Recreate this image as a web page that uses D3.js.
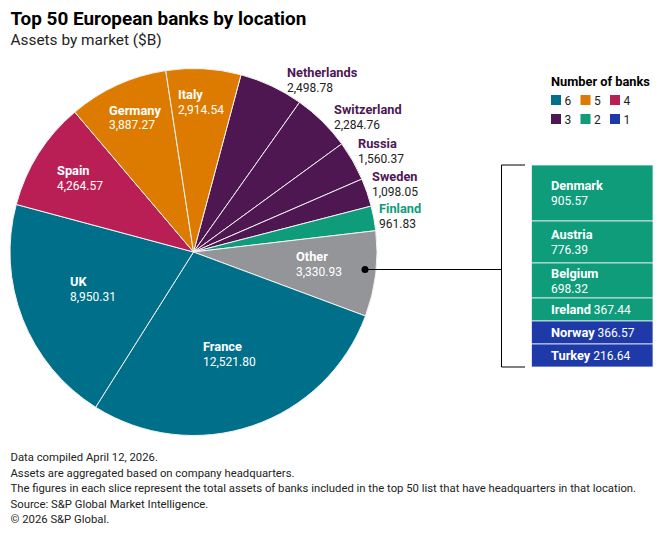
<!DOCTYPE html>
<html>
<head>
<meta charset="utf-8">
<script src="https://cdn.jsdelivr.net/npm/d3@7"></script>
<style>
  html, body { margin: 0; padding: 0; background: #fff; }
  text { font-family: Roboto, sans-serif; }
</style>
</head>
<body>
<div id="chart"></div>
<script>
// Pie slices, clockwise from the top right
const markets = ["Netherlands", "Switzerland", "Russia", "Sweden", "Finland", "Other", "France", "UK", "Spain", "Germany", "Italy"];
const assets = [2498.78, 2284.76, 1560.37, 1098.05, 961.83, 3330.93, 12521.80, 8950.31, 4264.57, 3887.27, 2914.54];
const assetLabels = ["2,498.78", "2,284.76", "1,560.37", "1,098.05", "961.83", "3,330.93", "12,521.80", "8,950.31", "4,264.57", "3,887.27", "2,914.54"];
const bankCounts = [3, 3, 3, 3, 2, 0, 6, 6, 4, 5, 5];

// Breakdown of the "Other" slice
const otherMarkets = ["Denmark", "Austria", "Belgium", "Ireland", "Norway", "Turkey"];
const otherAssets = [905.57, 776.39, 698.32, 367.44, 366.57, 216.64];
const otherCounts = [2, 2, 2, 2, 1, 1];

const legendCounts = [6, 5, 4, 3, 2, 1];

const footnotes = [
  "Data compiled April 12, 2026.",
  "Assets are aggregated based on company headquarters.",
  "The figures in each slice represent the total assets of banks included in the top 50 list that have headquarters in that location.",
  "Source: S&P Global Market Intelligence.",
  "© 2026 S&P Global."
];

const w = 660, h = 535;
const cx = 193.5, cy = 252, radius = 183.5;

const color = d3.scaleOrdinal()
  .domain([6, 5, 4, 3, 2, 1, 0])
  .range(["#006f8a", "#dd7a00", "#b91f55", "#4e1752", "#0e9c7a", "#1d3aa8", "#939598"]);

const svg = d3.select("#chart").append("svg")
  .attr("width", w)
  .attr("height", h)
  .style("display", "block");

// Title
svg.append("text").attr("x", 10.5).attr("y", 24.5)
  .attr("font-size", 18.9).attr("font-weight", 700).attr("fill", "#000")
  .text("Top 50 European banks by location");
svg.append("text").attr("x", 10.5).attr("y", 44.5)
  .attr("font-size", 15.4).attr("fill", "#222")
  .text("Assets by market ($B)");

// Pie
const pie = d3.pie().sort(null)
  .startAngle(15 * Math.PI / 180)
  .endAngle(375 * Math.PI / 180);
const arc = d3.arc().innerRadius(0).outerRadius(radius);
const slices = pie(assets);

svg.append("g")
  .attr("transform", `translate(${cx},${cy})`)
  .selectAll("path")
  .data(slices)
  .enter()
  .append("path")
  .attr("d", arc)
  .attr("fill", (d, i) => color(bankCounts[i]))
  .attr("stroke", "#f2f2f2")
  .attr("stroke-width", 1);

// Hand placed label spots: [x, name baseline, value baseline]
const labelSpots = {
  Netherlands: [287, 77, 92], Switzerland: [334, 114, 129], Russia: [358, 148, 163],
  Sweden: [372, 181, 196], Finland: [379, 213, 228], Other: [296, 261, 276],
  France: [203, 351, 366], UK: [70, 286, 301], Spain: [57, 175, 190],
  Germany: [109, 115, 129], Italy: [178, 99, 114]
};
const outside = ["Netherlands", "Switzerland", "Russia", "Sweden", "Finland"];

markets.forEach((m, i) => {
  const spot = labelSpots[m];
  const out = outside.includes(m);
  svg.append("text").attr("x", spot[0]).attr("y", spot[1])
    .attr("font-size", 12.8).attr("font-weight", 700)
    .attr("fill", out ? color(bankCounts[i]) : "#fff")
    .text(m);
  svg.append("text").attr("x", spot[0]).attr("y", spot[2])
    .attr("font-size", 12)
    .attr("fill", out ? "#222" : "#fff")
    .text(assetLabels[i]);
});

// Breakdown panel, row height grows with value but has a floor
const rowHeight = d3.scaleLinear()
  .domain([216.64, 367.44, 698.32, 776.39, 905.57])
  .range([23, 23, 35, 42, 56]);
const panelX = d3.scaleLinear().domain([0, 1]).range([531.5, 653]);
const panelTop = 165;

let rowY = panelTop;
const rows = otherAssets.map((v, i) => {
  const row = { name: otherMarkets[i], value: v, count: otherCounts[i], y: rowY, height: rowHeight(v) };
  rowY += row.height;
  return row;
});
const panelBottom = rowY;

svg.append("g").selectAll("rect")
  .data(rows)
  .enter()
  .append("rect")
  .attr("x", panelX(0))
  .attr("y", d => d.y)
  .attr("width", panelX(1) - panelX(0))
  .attr("height", d => d.height)
  .attr("fill", d => color(d.count))
  .attr("stroke", "#f2f2f2")
  .attr("stroke-width", 0.8);

const fmt = d3.format(".2f");
rows.forEach(r => {
  const mid = r.y + r.height / 2;
  const lbl = svg.append("text").attr("x", 551).attr("font-size", 12).attr("fill", "#fff");
  if (r.height > 30) {
    lbl.attr("y", mid - 3).attr("font-size", 12.8).attr("font-weight", 700).text(r.name);
    svg.append("text").attr("x", 551).attr("y", mid + 12)
      .attr("font-size", 12).attr("fill", "#fff").text(fmt(r.value));
  } else {
    lbl.attr("y", mid + 4);
    lbl.append("tspan").attr("font-size", 12.8).attr("font-weight", 700).text(r.name);
    lbl.append("tspan").text(" " + fmt(r.value));
  }
});

// Leader and bracket
svg.append("path")
  .attr("d", `M525,${panelTop}H501.5V${panelBottom}H525M501.5,269.5H365`)
  .attr("fill", "none").attr("stroke", "#000").attr("stroke-width", 1);
svg.append("circle").attr("cx", 365).attr("cy", 269.5).attr("r", 3.5).attr("fill", "#000");

// Legend
svg.append("text").attr("x", 551).attr("y", 86)
  .attr("font-size", 12.8).attr("font-weight", 700).attr("fill", "#000")
  .text("Number of banks");
const legendX = d3.scalePoint().domain([0, 1, 2]).range([551, 610]);
const legendY = d3.scalePoint().domain([0, 1]).range([95, 114]);
const legend = svg.append("g").selectAll("g")
  .data(legendCounts)
  .enter()
  .append("g")
  .attr("transform", (d, i) => `translate(${legendX(i % 3)},${legendY(Math.floor(i / 3))})`);
legend.append("rect").attr("width", 10).attr("height", 10).attr("fill", d => color(d));
legend.append("text").attr("x", 13.5).attr("y", 10)
  .attr("font-size", 12).attr("fill", "#222").text(d => d);

// Footnotes
const footY = d3.scaleLinear().domain([0, 4]).range([461, 523]);
svg.append("g").selectAll("text")
  .data(footnotes)
  .enter()
  .append("text")
  .attr("x", 10.5)
  .attr("y", (d, i) => footY(i))
  .attr("font-size", 11.3)
  .attr("fill", "#222")
  .text(d => d);
</script>
</body>
</html>
